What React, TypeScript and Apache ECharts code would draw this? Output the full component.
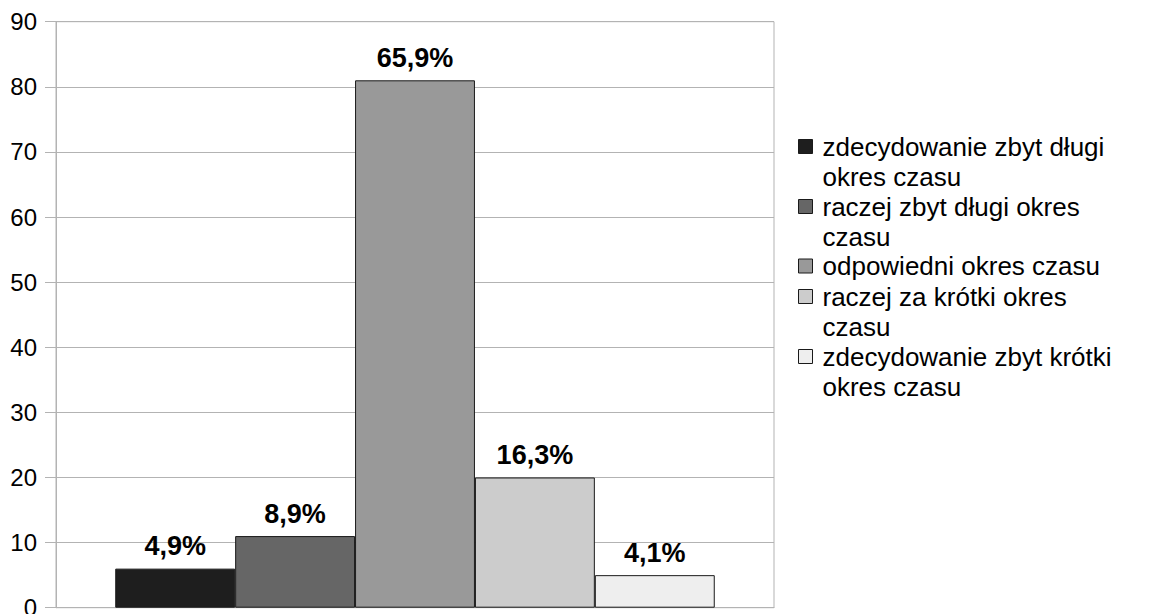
import React, { useEffect, useRef } from "react";
import * as echarts from "echarts";

const categories = [""];
const seriesNames = [
  "zdecydowanie zbyt długi okres czasu",
  "raczej zbyt długi okres czasu",
  "odpowiedni okres czasu",
  "raczej za krótki okres czasu",
  "zdecydowanie zbyt krótki okres czasu",
];
const legendText = [
  "zdecydowanie zbyt długi\nokres czasu",
  "raczej zbyt długi okres\nczasu",
  "odpowiedni okres czasu",
  "raczej za krótki okres\nczasu",
  "zdecydowanie zbyt krótki\nokres czasu",
];
const values = [6, 11, 81, 20, 5];
const percentLabels = ["4,9%", "8,9%", "65,9%", "16,3%", "4,1%"];
const colors = ["#1e1e1e", "#666666", "#999999", "#cccccc", "#eeeeee"];
const yMin = 0;
const yMax = 90;
const yInterval = 10;

const FONT = "'Liberation Sans', Arial, sans-serif";
const LEGEND_FONT = 26;
const LEGEND_LH = 30;
const LEGEND_GAP = 0;
const LEGEND_FIRST_CENTER = 146;
const ICON = 14;

export default function App() {
  const ref = useRef<HTMLDivElement>(null);

  useEffect(() => {
    if (!ref.current) return;
    const chart = echarts.init(ref.current, undefined, { renderer: "svg" });

    // one legend per entry; for wrapped entries the icon is a square placed at
    // the first text line inside a box as tall as the text block
    const legends: any[] = [];
    let center = LEGEND_FIRST_CENTER;
    legendText.forEach((txt, i) => {
      const lines = txt.split("\n").length;
      const boxH = lines * LEGEND_LH;
      const sqTop = (LEGEND_LH - ICON) / 2;
      const icon =
        lines > 1
          ? `path://M0,0M0,${boxH}M0,${sqTop}H${ICON}V${sqTop + ICON}H0Z`
          : "rect";
      legends.push({
        orient: "vertical",
        left: 798,
        top: center - LEGEND_LH / 2,
        padding: 0,
        itemWidth: ICON,
        itemHeight: lines > 1 ? boxH : ICON,
        icon,
        symbolKeepAspect: false,
        selectedMode: false,
        data: [seriesNames[i]],
        formatter: () => txt,
        itemStyle: { borderColor: "#1a1a1a", borderWidth: 1 },
        textStyle: {
          fontFamily: FONT,
          fontSize: LEGEND_FONT,
          lineHeight: LEGEND_LH,
          color: "#000",
          padding: [0, 0, 0, 5],
        },
      });
      center += lines * LEGEND_LH + LEGEND_GAP;
    });

    chart.setOption({
      animation: false,
      textStyle: { fontFamily: FONT },
      grid: {
        left: 56,
        right: 376,
        top: 21.7,
        bottom: 6.3,
        show: true,
        borderColor: "#b3b3b3",
        borderWidth: 1,
        containLabel: false,
        outerBoundsMode: "none",
      },
      legend: legends,
      xAxis: {
        type: "category",
        data: categories,
        axisLine: { show: true, lineStyle: { color: "#b3b3b3" } },
        axisTick: { show: false },
        axisLabel: { show: false },
      },
      yAxis: {
        type: "value",
        min: yMin,
        max: yMax,
        interval: yInterval,
        axisLine: { show: true, lineStyle: { color: "#b3b3b3" } },
        axisTick: { show: true, length: 11, lineStyle: { color: "#b3b3b3" } },
        splitLine: { show: true, lineStyle: { color: "#b3b3b3" } },
        axisLabel: { fontSize: 24, color: "#000", margin: 19, fontFamily: FONT },
      },
      series: seriesNames.map((name, i) => ({
        name,
        type: "bar",
        data: [values[i]],
        barGap: "0%",
        barCategoryGap: "16.5%",
        itemStyle: { color: colors[i], borderColor: "#1a1a1a", borderWidth: 1 },
        label: {
          show: true,
          position: "top",
          distance: 9,
          formatter: () => percentLabels[i],
          fontSize: 27,
          lineHeight: 27,
          fontWeight: "bold",
          color: "#000",
          fontFamily: FONT,
        },
      })),
    });

    return () => chart.dispose();
  }, []);

  return (
    <div
      ref={ref}
      style={{ position: "fixed", left: 0, top: 0, width: 1150, height: 614, background: "#fff" }}
    />
  );
}
